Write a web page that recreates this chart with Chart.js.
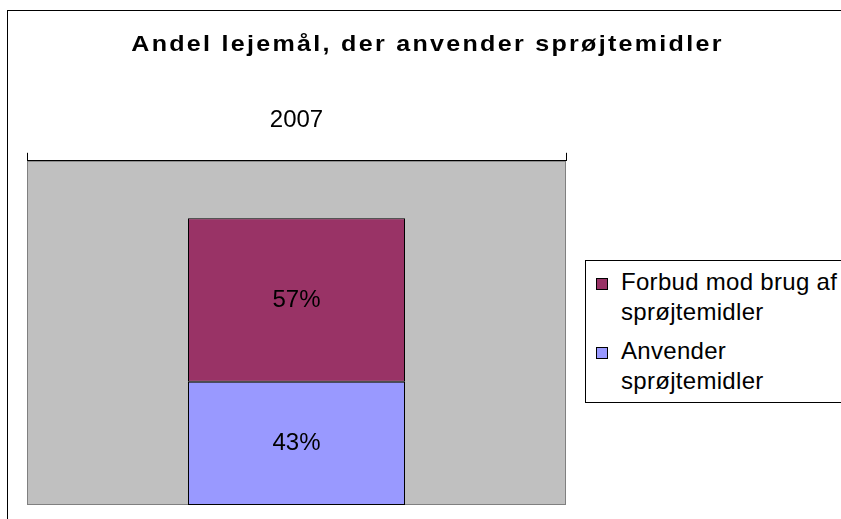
<!DOCTYPE html>
<html>
<head>
<meta charset="utf-8">
<script src="https://cdn.jsdelivr.net/npm/chart.js@4/dist/chart.umd.min.js"></script>
<style>
  body { margin: 0; overflow: hidden; background: #fff; font-family: 'Liberation Sans', Arial, sans-serif; }
  #frame { position: absolute; left: 7px; top: 10px; width: 900px; height: 600px; border: 1px solid #000; }
  #title { position: absolute; left: 7px; width: 841px; top: 31px; text-align: center;
           font: bold 22px 'Liberation Sans', Arial, sans-serif; letter-spacing: 2px; color: #000;
           transform: scaleX(1.14); transform-origin: 50% 50%; }
  #wrap { position: absolute; left: 0; top: 0; width: 841px; height: 519px; }
  #legend { position: absolute; left: 585px; top: 260px; width: 290px; height: 141px; border: 1px solid #000;
            background: #fff; font: 24px 'Liberation Sans', Arial, sans-serif; letter-spacing: 0.3px; color: #000; }
  .item { position: absolute; left: 0; line-height: 30px; }
  .item span.sw { position: absolute; left: 10px; top: 11px; width: 10px; height: 10px; border: 1px solid #000; }
  .item div { margin-left: 35px; }
</style>
</head>
<body>
<div id="frame"></div>
<div id="wrap"><canvas id="chart" width="841" height="519"></canvas></div>
<div id="title">Andel lejemål, der anvender sprøjtemidler</div>
<div id="legend"></div>
<script>
const categories = ['2007'];
const anvender = [43];
const forbud = [57];
const seriesNames = [['Anvender', 'sprøjtemidler'], ['Forbud mod brug af', 'sprøjtemidler']];
const seriesColors = ['#9999FF', '#993366'];

const plotBackground = {
  id: 'plotBackground',
  beforeDraw(chart) {
    const { ctx, chartArea: a } = chart;
    ctx.save();
    ctx.fillStyle = '#C0C0C0';
    ctx.fillRect(a.left, a.top, a.right - a.left, a.bottom - a.top);
    ctx.strokeStyle = '#808080';
    ctx.lineWidth = 1;
    ctx.strokeRect(a.left + 0.5, a.top + 0.5, a.right - a.left - 1, a.bottom - a.top - 1);
    ctx.restore();
  }
};

const barLabels = {
  id: 'barLabels',
  afterDatasetsDraw(chart) {
    const ctx = chart.ctx;
    ctx.save();
    ctx.font = "24px 'Liberation Sans', Arial, sans-serif";
    ctx.fillStyle = '#000';
    ctx.textAlign = 'center';
    ctx.textBaseline = 'middle';
    chart.data.datasets.forEach((ds, i) => {
      chart.getDatasetMeta(i).data.forEach((el, j) => {
        ctx.fillText(ds.data[j] + '%', el.x, (el.y + el.base) / 2);
      });
    });
    ctx.restore();
  }
};

const chart = new Chart(document.getElementById('chart'), {
  type: 'bar',
  data: {
    labels: categories,
    datasets: [
      { label: seriesNames[0].join(' '), data: anvender, backgroundColor: seriesColors[0] },
      { label: seriesNames[1].join(' '), data: forbud, backgroundColor: seriesColors[1] }
    ]
  },
  options: {
    responsive: false,
    animation: false,
    layout: { padding: { left: 27, right: 275, top: 88, bottom: 14 } },
    datasets: {
      bar: { borderColor: '#000', borderWidth: 1, borderSkipped: false, barPercentage: 0.4026, categoryPercentage: 1 }
    },
    plugins: { legend: { display: false }, title: { display: false }, tooltip: { enabled: false } },
    scales: {
      x: {
        stacked: true,
        position: 'top',
        grid: { offset: true, drawOnChartArea: false, tickLength: 8, color: '#000' },
        border: { display: true, color: '#000', width: 1 },
        ticks: { color: '#000', padding: 18, font: { family: "'Liberation Sans', Arial, sans-serif", size: 24 } }
      },
      y: { stacked: true, min: 0, max: 120, display: false }
    }
  },
  plugins: [plotBackground, barLabels]
});

// legend, top series first like the stacked order
const legendBox = document.getElementById('legend');
let itemTop = 6;
[1, 0].forEach(i => {
  const item = document.createElement('div');
  item.className = 'item';
  item.style.top = itemTop + 'px';
  const sw = document.createElement('span');
  sw.className = 'sw';
  sw.style.background = seriesColors[i];
  item.appendChild(sw);
  const txt = document.createElement('div');
  txt.innerHTML = seriesNames[i].join('<br>');
  item.appendChild(txt);
  legendBox.appendChild(item);
  itemTop += 69;
});
</script>
</body>
</html>
